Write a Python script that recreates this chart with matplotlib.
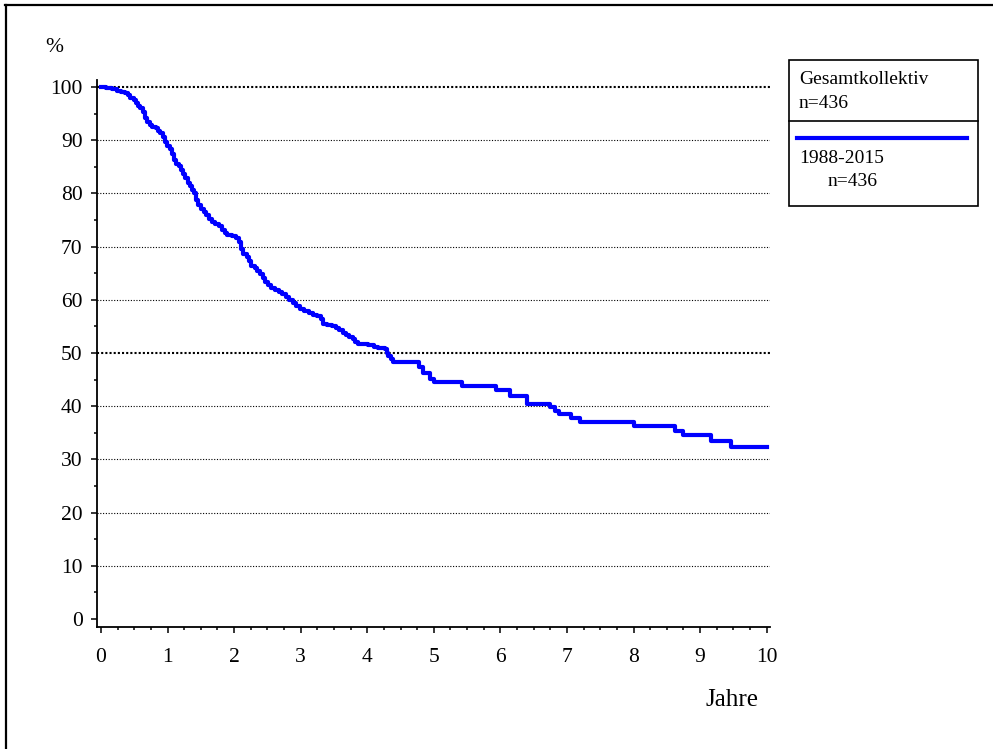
import matplotlib.pyplot as plt
from matplotlib.lines import Line2D
from matplotlib.patches import Rectangle
from matplotlib.ticker import MultipleLocator

plt.rcParams['font.family'] = ['Liberation Serif', 'DejaVu Serif']

# Kaplan-Meier Überlebenskurve, Gesamtkollektiv 1988-2015 (n=436)
jahre = [0, 0.08, 0.16, 0.24, 0.30, 0.36, 0.40, 0.44, 0.49, 0.53, 0.56, 0.59,
         0.63, 0.66, 0.69, 0.73, 0.77, 0.83, 0.86, 0.89, 0.93, 0.96, 0.99, 1.03,
         1.07, 1.10, 1.13, 1.17, 1.20, 1.23, 1.26, 1.30, 1.33, 1.37, 1.40, 1.43,
         1.46, 1.50, 1.54, 1.58, 1.62, 1.67, 1.72, 1.77, 1.82, 1.86, 1.90, 1.97,
         2.03, 2.08, 2.11, 2.14, 2.19, 2.23, 2.26, 2.31, 2.35, 2.39, 2.43, 2.47,
         2.51, 2.56, 2.62, 2.67, 2.72, 2.78, 2.83, 2.88, 2.93, 2.99, 3.05, 3.12,
         3.18, 3.25, 3.30, 3.33, 3.40, 3.47, 3.53, 3.58, 3.63, 3.68, 3.73, 3.78,
         3.82, 3.86, 4.01, 4.10, 4.16, 4.26, 4.29, 4.31, 4.35, 4.38, 4.77, 4.83,
         4.94, 5.00, 5.42, 5.93, 6.14, 6.40, 6.74, 6.82, 6.88, 7.06, 7.19, 8.00,
         8.62, 8.74, 9.17, 9.47, 10.0]
ueberleben = [100, 99.8, 99.6, 99.3, 99.1, 98.8, 98.4, 98.0, 97.5, 97.0, 96.5, 96.0,
              95.2, 94.2, 93.4, 92.8, 92.4, 92.2, 91.8, 91.3, 90.6, 89.7, 88.9, 88.3,
              87.3, 86.3, 85.6, 85.1, 84.4, 83.6, 82.8, 82.0, 81.3, 80.6, 80.0, 78.8,
              77.9, 77.0, 76.5, 75.9, 75.2, 74.7, 74.3, 73.8, 73.2, 72.6, 72.1, 71.9,
              71.6, 70.8, 69.5, 68.6, 68.1, 67.2, 66.3, 65.9, 65.4, 64.8, 64.1, 63.4,
              62.8, 62.2, 61.9, 61.5, 61.0, 60.6, 60.0, 59.4, 58.9, 58.3, 57.9, 57.5,
              57.2, 56.9, 56.3, 55.5, 55.2, 55.0, 54.7, 54.3, 53.8, 53.4, 53.0, 52.6,
              52.1, 51.7, 51.5, 51.2, 51.0, 50.7, 50.0, 49.4, 48.8, 48.3, 47.4, 46.3,
              45.2, 44.6, 43.7, 43.0, 42.0, 40.5, 39.8, 39.1, 38.5, 37.8, 37.0, 36.2,
              35.3, 34.5, 33.4, 32.3, 32.3]
gitter = [10, 20, 30, 40, 50, 60, 70, 80, 90, 100]
gitter_fett = [50, 100]
legende_titel = ['Gesamtkollektiv', 'n=436']
legende_gruppe = ['1988-2015', 'n=436']

W, H = 993, 749
fig = plt.figure(figsize=(W / 100, H / 100), dpi=100)


def fx(px):
    return px / W


def fy(py):
    return 1 - py / H


ax = fig.add_axes([fx(97), fy(627), fx(770) - fx(97), fy(80) - fy(627)])
ax.step(jahre, ueberleben, where='post', color='#0000ff', lw=3,
        solid_joinstyle='round', zorder=3)
ax.set_xlim(-0.06, 10.05)
ax.set_ylim(-1.5, 101.3)

for g in gitter:
    if g in gitter_fett:
        ax.axhline(g, color='black', lw=1.5, ls=(0, (1, 1)), zorder=1)
    else:
        ax.axhline(g, color='black', lw=0.8, ls=(0, (1, 1.5)), zorder=1)

for s in ['top', 'right']:
    ax.spines[s].set_visible(False)
for s in ['left', 'bottom']:
    ax.spines[s].set_linewidth(1.3)

ax.xaxis.set_major_locator(MultipleLocator(1))
ax.xaxis.set_minor_locator(MultipleLocator(0.25))
ax.yaxis.set_major_locator(MultipleLocator(10))
ax.yaxis.set_minor_locator(MultipleLocator(5))
ax.tick_params(which='major', length=4.3, width=1.1, labelsize=15.5)
ax.tick_params(which='minor', length=2.5, width=1.1)
ax.tick_params(axis='x', pad=10.5)
ax.tick_params(axis='y', pad=6)

fig.text(fx(45), fy(52), '%', ha='left', va='baseline', fontsize=15.5)
fig.text(fx(705), fy(706), 'Jahre', ha='left', va='baseline', fontsize=18)

# Rahmen oben und links
fig.add_artist(Line2D([fx(5), fx(993)], [fy(5), fy(5)], color='black', lw=1.6,
                      transform=fig.transFigure))
fig.add_artist(Line2D([fx(6), fx(6)], [fy(5), fy(749)], color='black', lw=1.6,
                      transform=fig.transFigure))

# Legende
fig.add_artist(Rectangle((fx(789), fy(206)), fx(978) - fx(789), fy(60) - fy(206),
                         fill=False, lw=1.2, edgecolor='black',
                         transform=fig.transFigure))
fig.add_artist(Line2D([fx(789), fx(978)], [fy(121), fy(121)], color='black', lw=1.2,
                      transform=fig.transFigure))
fig.add_artist(Line2D([fx(797), fx(967)], [fy(138), fy(138)], color='#0000ff', lw=3,
                      transform=fig.transFigure))
fig.text(fx(799), fy(84), legende_titel[0], ha='left', va='baseline', fontsize=14)
fig.text(fx(799), fy(108), legende_titel[1], ha='left', va='baseline', fontsize=14)
fig.text(fx(799), fy(163), legende_gruppe[0], ha='left', va='baseline', fontsize=14)
fig.text(fx(828), fy(186), legende_gruppe[1], ha='left', va='baseline', fontsize=14)

fig.savefig('out.png', dpi=100)
